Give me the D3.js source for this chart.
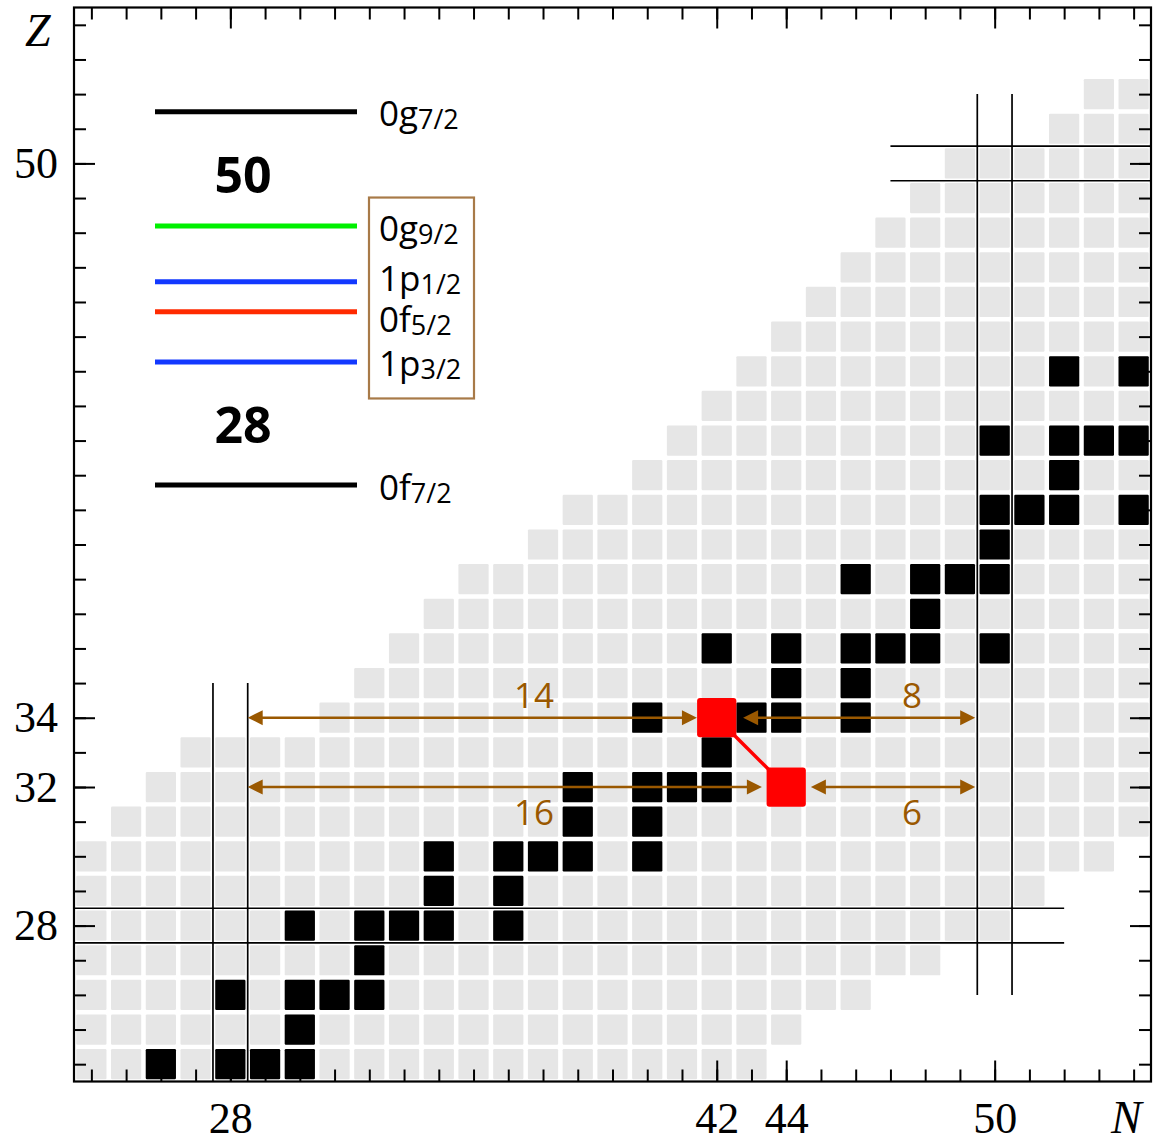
<!DOCTYPE html>
<html>
<head>
<meta charset="utf-8">
<script src="https://cdn.jsdelivr.net/npm/d3@7"></script>
<style>
  html, body { margin: 0; padding: 0; background: #fff; }
  svg { display: block; }
</style>
</head>
<body>
<svg id="chart" width="1164" height="1139"></svg>
<script>
// ---- Chart of nuclides, Z = 24..52 ----
// Known nuclei: for each proton number, the lightest and heaviest neutron number shown
const chartZ  = [24,25,26,27,28,29,30,31,32,33,34,35,36,37,38,39,40,41,42,43,44,45,46,47,48,49,50,51,52];
const firstN  = [24,24,24,24,24,24,24,25,26,27,31,32,33,34,35,37,38,40,41,42,43,44,45,46,47,48,49,52,53];
const lastN   = [43,44,46,48,50,51,53,54,54,54,54,54,54,54,54,54,54,54,54,54,54,54,54,54,54,54,54,54,54];

// Stable isotopes: proton number and its stable neutron numbers
const stableZ = [24, 25, 26, 27, 28, 29, 30, 31, 32, 33, 34, 35, 36, 37, 38, 39, 40, 41, 42, 44];
const stableN = [
  [26,28,29,30], [30], [28,30,31,32], [32], [30,32,33,34,36], [34,36],
  [34,36,37,38,40], [38,40], [38,40,41,42], [42], [40,43,44,46], [44,46],
  [42,44,46,47,48,50], [48], [46,48,49,50], [50], [50,51,52,54], [52],
  [50,52,53,54], [52,54]
];

// Double-beta pair 76Se -> 76Ge
const pairN = [42, 44];
const pairZ = [34, 32];

// Shell closures drawn as double lines (N or Z magic number and extent of the lines)
const magicNumbers = [28, 50];
const magicNSpanZ = [[23.5, 35], [26, 52]];   // vertical lines at N = magic +- 1/2
const magicZSpanN = [[23.5, 52], [47, 54.5]]; // horizontal lines at Z = magic +- 1/2

// Distances to the shell closures (in nucleons)
const gapZ      = [34, 34, 32, 32];
const gapFromN  = [28.5, 42.76, 28.5, 44.71];
const gapToN    = [41.43, 49.44, 43.3, 49.44];
const gapLabel  = ["14", "8", "16", "6"];
const gapLabelN = [36.74, 47.62, 36.74, 47.62];
const gapLabelAbove = [true, true, false, false];

// Axis tick labels
const xTickLabels = [28, 42, 44, 50];
const yTickLabels = [28, 32, 34, 50];

// Single-particle levels of the inset (schematic energies)
const levelOrbit  = ["0f", "1p", "0f", "1p", "0g", "0g"];
const levelJ      = ["7/2", "3/2", "5/2", "1/2", "9/2", "7/2"];
const levelEnergy = [0, 4.1, 5.77, 6.77, 8.63, 12.44];
const levelColor  = ["#000000", "#1238ff", "#ff2a00", "#1238ff", "#00f000", "#000000"];
const boxedLevels = [1, 2, 3, 4];
const shellGapMagic  = [28, 50];
const shellGapEnergy = [2.0, 10.33];

// ---- layout ----
const plot = { left: 74, right: 1151, top: 7.5, bottom: 1081.5 };
const x = d3.scaleLinear().domain([23.5, 54.5]).range([plot.left, plot.right]);
const y = d3.scaleLinear().domain([23.5, 54.5]).range([plot.bottom, plot.top]);
const unit = x(1) - x(0);
const cell = 0.87 * unit;
const bigCell = 1.13 * unit;

const brown = "#9a5800";
const serif = "'Liberation Serif', 'Times New Roman', serif";
const sans = "'Open Sans', 'DejaVu Sans', sans-serif";

const svg = d3.select("#chart");
svg.append("rect").attr("width", 1164).attr("height", 1139).attr("fill", "#fff");

svg.append("defs").append("clipPath").attr("id", "plotClip")
  .append("rect")
  .attr("x", plot.left).attr("y", plot.top)
  .attr("width", plot.right - plot.left).attr("height", plot.bottom - plot.top);

const body = svg.append("g").attr("clip-path", "url(#plotClip)");

// known nuclei
const known = chartZ.flatMap((z, i) => d3.range(firstN[i], lastN[i] + 1).map(n => ({ n, z })));
body.append("g").selectAll("rect").data(known).join("rect")
  .attr("x", d => x(d.n) - cell / 2)
  .attr("y", d => y(d.z) - cell / 2)
  .attr("width", cell).attr("height", cell)
  .attr("rx", 1.2)
  .attr("fill", "#e6e6e6");

// stable nuclei
const stable = stableZ.flatMap((z, i) => stableN[i].map(n => ({ n, z })));
body.append("g").selectAll("rect").data(stable).join("rect")
  .attr("x", d => x(d.n) - cell / 2)
  .attr("y", d => y(d.z) - cell / 2)
  .attr("width", cell).attr("height", cell)
  .attr("rx", 1.2)
  .attr("fill", "#000");

// shell closure lines
const magicG = body.append("g").attr("stroke", "#000").attr("stroke-width", 1.7);
magicNumbers.forEach((m, i) => {
  [m - 0.5, m + 0.5].forEach(v => {
    magicG.append("line")
      .attr("x1", x(v)).attr("x2", x(v))
      .attr("y1", y(magicNSpanZ[i][0])).attr("y2", y(magicNSpanZ[i][1]));
    magicG.append("line")
      .attr("y1", y(v)).attr("y2", y(v))
      .attr("x1", x(magicZSpanN[i][0])).attr("x2", x(magicZSpanN[i][1]));
  });
});

// double-headed arrows with distances to N = 28 and N = 50
const headLen = 15, headHalf = 7.5;
const arrowG = body.append("g");
gapZ.forEach((z, i) => {
  const x0 = x(gapFromN[i]), x1 = x(gapToN[i]), yy = y(z);
  arrowG.append("line")
    .attr("x1", x0 + headLen / 2).attr("x2", x1 - headLen / 2)
    .attr("y1", yy).attr("y2", yy)
    .attr("stroke", brown).attr("stroke-width", 2.6);
  arrowG.append("path")
    .attr("d", `M${x0},${yy}L${x0 + headLen},${yy - headHalf}L${x0 + headLen},${yy + headHalf}Z`)
    .attr("fill", brown);
  arrowG.append("path")
    .attr("d", `M${x1},${yy}L${x1 - headLen},${yy - headHalf}L${x1 - headLen},${yy + headHalf}Z`)
    .attr("fill", brown);
  arrowG.append("text")
    .attr("x", x(gapLabelN[i]))
    .attr("y", gapLabelAbove[i] ? yy - 10 : yy + 38)
    .attr("text-anchor", "middle")
    .attr("font-family", sans)
    .attr("font-size", 35)
    .attr("fill", brown)
    .text(gapLabel[i]);
});

// 76Se -> 76Ge link and highlighted squares
const pair = pairN.map((n, i) => ({ n, z: pairZ[i] }));
body.append("line")
  .attr("x1", x(pair[0].n)).attr("y1", y(pair[0].z))
  .attr("x2", x(pair[1].n)).attr("y2", y(pair[1].z))
  .attr("stroke", "#ff0000").attr("stroke-width", 3.5);
body.append("g").selectAll("rect").data(pair).join("rect")
  .attr("x", d => x(d.n) - bigCell / 2)
  .attr("y", d => y(d.z) - bigCell / 2)
  .attr("width", bigCell).attr("height", bigCell)
  .attr("rx", 3)
  .attr("fill", "#ff0000");

// ---- axes: ticks on all four sides, pointing inward ----
const allTicks = d3.range(24, 55);
function styleAxis(g) {
  g.select(".domain").remove();
  g.selectAll(".tick line").attr("stroke", "#000").attr("stroke-width", 2);
  g.selectAll(".tick text")
    .attr("font-family", serif).attr("font-size", 44).attr("fill", "#000");
}
svg.append("g").attr("transform", `translate(0,${plot.bottom})`)
  .call(d3.axisBottom(x).tickValues(allTicks).tickSize(-12).tickFormat("")).call(styleAxis);
svg.append("g").attr("transform", `translate(0,${plot.bottom})`)
  .call(d3.axisBottom(x).tickValues(xTickLabels).tickSize(-21).tickPadding(20).tickFormat(d3.format("d")))
  .call(styleAxis);
svg.append("g").attr("transform", `translate(0,${plot.top})`)
  .call(d3.axisTop(x).tickValues(allTicks).tickSize(-12).tickFormat("")).call(styleAxis);
svg.append("g").attr("transform", `translate(0,${plot.top})`)
  .call(d3.axisTop(x).tickValues(xTickLabels).tickSize(-21).tickFormat("")).call(styleAxis);
svg.append("g").attr("transform", `translate(${plot.left},0)`)
  .call(d3.axisLeft(y).tickValues(allTicks).tickSize(-12).tickFormat("")).call(styleAxis);
svg.append("g").attr("transform", `translate(${plot.left},0)`)
  .call(d3.axisLeft(y).tickValues(yTickLabels).tickSize(-21).tickPadding(16).tickFormat(d3.format("d")))
  .call(styleAxis);
svg.append("g").attr("transform", `translate(${plot.right},0)`)
  .call(d3.axisRight(y).tickValues(allTicks).tickSize(-12).tickFormat("")).call(styleAxis);
svg.append("g").attr("transform", `translate(${plot.right},0)`)
  .call(d3.axisRight(y).tickValues(yTickLabels).tickSize(-21).tickFormat("")).call(styleAxis);

svg.append("rect")
  .attr("x", plot.left).attr("y", plot.top)
  .attr("width", plot.right - plot.left).attr("height", plot.bottom - plot.top)
  .attr("fill", "none").attr("stroke", "#000").attr("stroke-width", 2.2);

svg.append("text").attr("x", 25).attr("y", 46)
  .attr("font-family", serif).attr("font-style", "italic").attr("font-size", 46)
  .text("Z");
svg.append("text").attr("x", 1111).attr("y", 1133)
  .attr("font-family", serif).attr("font-style", "italic").attr("font-size", 46)
  .text("N");

// ---- inset: single-particle levels between 28 and 50 ----
const inset = { lineX0: 155, lineX1: 357, labelX: 379, gapX: 243, yAt0: 485, yAtTop: 111.7 };
const yLevel = d3.scaleLinear().domain([0, d3.max(levelEnergy)]).range([inset.yAt0, inset.yAtTop]);
const insetG = svg.append("g");

levelEnergy.forEach((e, i) => {
  insetG.append("line")
    .attr("x1", inset.lineX0).attr("x2", inset.lineX1)
    .attr("y1", yLevel(e)).attr("y2", yLevel(e))
    .attr("stroke", levelColor[i]).attr("stroke-width", 5);
});

// label baselines: just under each line, pushed apart where two levels are close
const minGap = 41;
const baselines = levelEnergy.map(e => yLevel(e) + 14.5);
const order = d3.range(levelEnergy.length).sort((a, b) => baselines[a] - baselines[b]);
for (let iter = 0; iter < 20; iter++) {
  for (let k = 0; k < order.length - 1; k++) {
    const a = order[k], b = order[k + 1];
    const d = baselines[b] - baselines[a];
    if (d < minGap) {
      const push = (minGap - d) / 2;
      baselines[a] -= push;
      baselines[b] += push;
    }
  }
}

levelEnergy.forEach((e, i) => {
  const t = insetG.append("text")
    .attr("x", inset.labelX).attr("y", baselines[i])
    .attr("font-family", sans).attr("fill", "#000");
  t.append("tspan").attr("font-size", 35).text(levelOrbit[i]);
  t.append("tspan").attr("font-size", 27).attr("dy", 3).text(levelJ[i]);
});

// frame around the levels of the fp-g9/2 space
const boxTop = d3.min(boxedLevels, i => baselines[i]) - 43;
const boxBottom = d3.max(boxedLevels, i => baselines[i]) + 22;
insetG.append("rect")
  .attr("x", inset.labelX - 10).attr("y", boxTop)
  .attr("width", 105).attr("height", boxBottom - boxTop)
  .attr("fill", "none").attr("stroke", "#a87a48").attr("stroke-width", 2.2);

shellGapMagic.forEach((m, i) => {
  insetG.append("text")
    .attr("x", inset.gapX).attr("y", yLevel(shellGapEnergy[i]))
    .attr("dy", "0.36em")
    .attr("text-anchor", "middle")
    .attr("font-family", sans).attr("font-weight", "bold").attr("font-size", 50)
    .attr("fill", "#000")
    .text(m);
});
</script>
</body>
</html>
